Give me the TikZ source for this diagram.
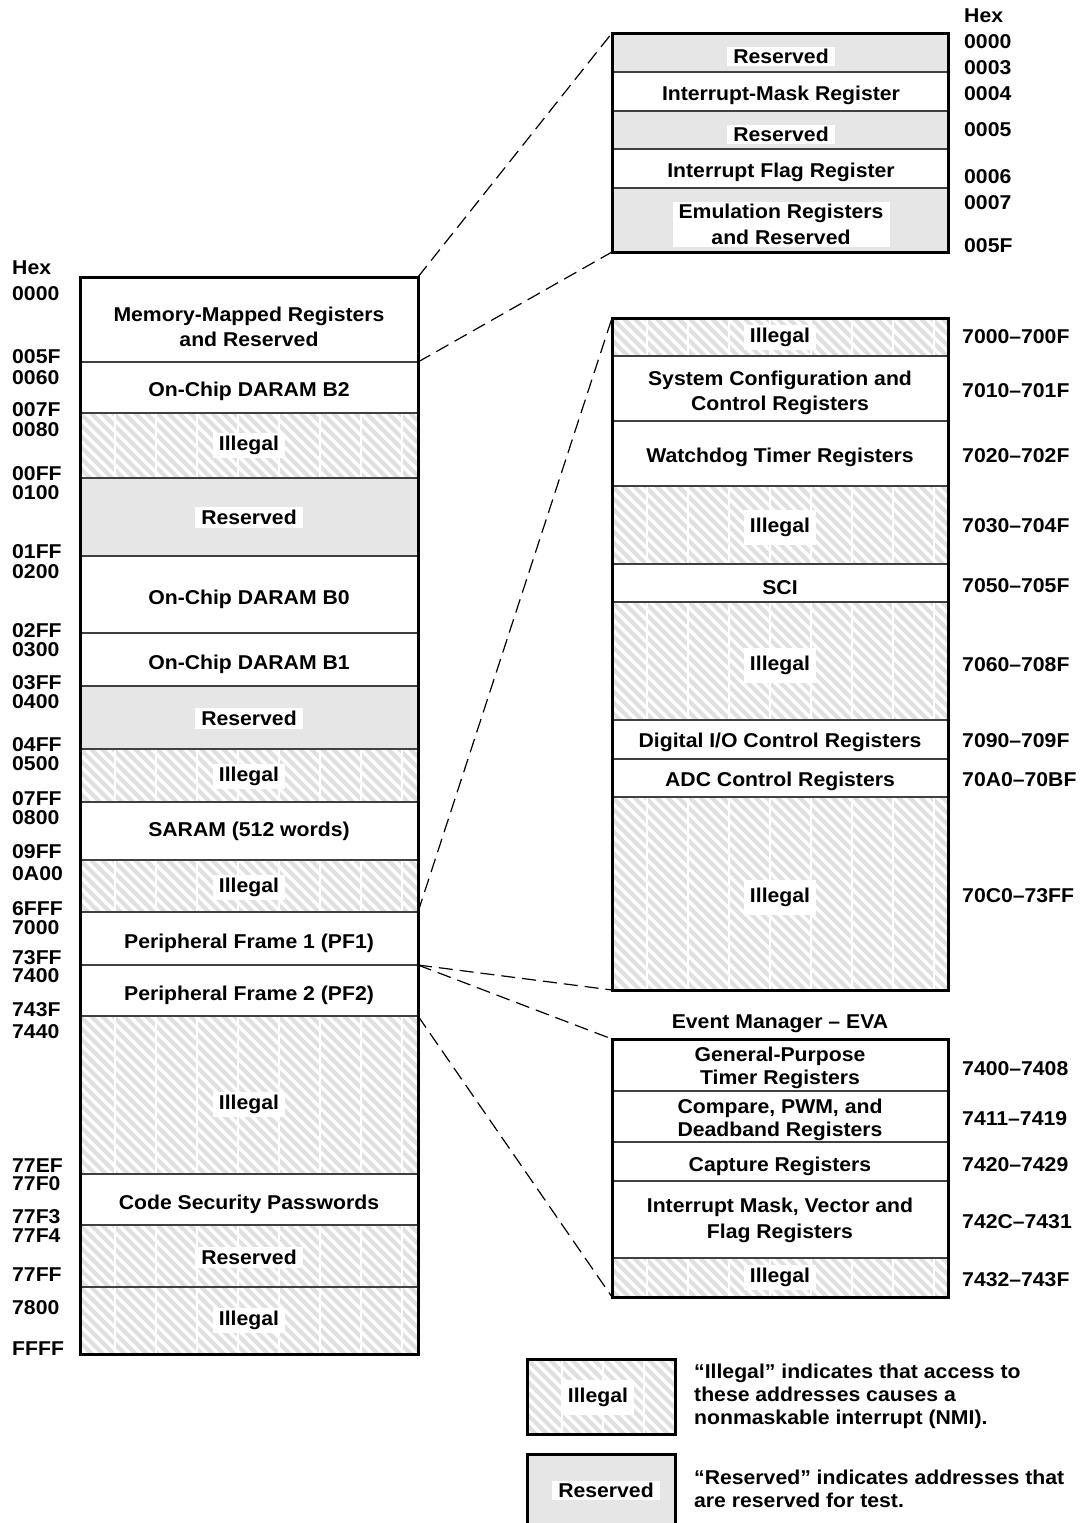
\documentclass[tikz,border=0pt]{standalone}
\usepackage{fontspec}
\setmainfont[FakeStretch=1.06]{Liberation Sans}
\definecolor{hatchgray}{HTML}{E0E0E0}
\definecolor{resgray}{HTML}{E6E6E6}
\definecolor{divgray}{HTML}{404040}
\tikzset{
  lbl/.style={fill=white, inner xsep=6pt, inner ysep=3pt, align=center, text=black, yshift=-1.5pt,
    font=\bfseries\fontsize{20}{25}\selectfont},
  plain/.style={lbl, fill=none},
  addr/.style={anchor=west, inner sep=0pt, font=\bfseries\fontsize{20}{22}\selectfont},
  frame/.style={draw=black, line width=3pt, outer sep=0pt, inner sep=0pt},
  divider/.style={draw=divgray, line width=1.5pt},
  conn/.style={draw=black, line width=1.2pt, dash pattern=on 14pt off 7pt},
}
\newcommand\grayrow[4]{\fill[resgray] (#1,#2) rectangle (#3,#4);}
\newcommand\hatchrow[4]{%
  \begin{scope}
    \clip (#1,#2) rectangle (#3,#4);
    \fill[white] (#1,#2) rectangle (#3,#4);
    \foreach \s in {-264,-253,...,352} \draw[hatchgray, line width=4pt] (#1+\s,#2) -- ++(300,300);
    \foreach \s in {35,76,...,340} \draw[white, line width=1.6pt] (#1+\s,#2) -- (#1+\s,#4);
  \end{scope}}
\begin{document}
\begin{tikzpicture}[x=1pt, y=-1pt]
\useasboundingbox (0,0) rectangle (1082,1523);
\fill[white] (0,0) rectangle (1082,1523);

% ---------------- left memory map ----------------
\grayrow{80}{478}{418}{556}
\grayrow{80}{686}{418}{749}
\hatchrow{80}{413}{418}{478}
\hatchrow{80}{749}{418}{802}
\hatchrow{80}{860}{418}{912}
\hatchrow{80}{1016}{418}{1174}
\hatchrow{80}{1225}{418}{1287}
\hatchrow{80}{1287}{418}{1354}
\foreach \yy in {362,413,478,556,633,686,749,802,860,912,965,1016,1174,1225,1287}
  \draw[divider] (80,\yy) -- (418,\yy);

\node[plain] (mmr) at (249,325) {Memory-Mapped Registers\\and Reserved};
\node[plain] (b2) at (249,390) {On-Chip DARAM B2};
\node[lbl] (ill1) at (249,444) {Illegal};
\node[lbl] (res1) at (249,516) {Reserved};
\node[plain] (b0) at (249,598) {On-Chip DARAM B0};
\node[plain] (b1) at (249,663) {On-Chip DARAM B1};
\node[lbl] (res2) at (249,717) {Reserved};
\node[lbl] (ill2) at (249,775) {Illegal};
\node[plain] (saram) at (249,830) {SARAM (512 words)};
\node[lbl] (ill3) at (249,886) {Illegal};
\node[plain] (pf1) at (249,942) {Peripheral Frame 1 (PF1)};
\node[plain] (pf2) at (249,994) {Peripheral Frame 2 (PF2)};
\node[lbl] (ill4) at (249,1103) {Illegal};
\node[plain] (csp) at (249,1203) {Code Security Passwords};
\node[lbl] (res3) at (249,1256) {Reserved};
\node[lbl] (ill5) at (249,1319) {Illegal};
\node[frame, minimum width=338pt, minimum height=1077pt] (mem) at (249,815.5) {};

\foreach \yy/\lab in {268/Hex,294/0000,357/005F,378/0060,410/007F,430/0080,474/00FF,493/0100,552/01FF,572/0200,631/02FF,650/0300,683/03FF,702/0400,745/04FF,764/0500,799/07FF,818/0800,852/09FF,874/0A00,909/6FFF,928/7000,958/73FF,976/7400,1010/743F,1032/7440,1166/77EF,1184/77F0,1217/77F3,1236/77F4,1275/77FF,1308/7800,1349/FFFF}
  \node[addr] (L\lab) at (12,\yy) {\lab};

% ---------------- top right: memory-mapped registers ----------------
\grayrow{612}{33}{948}{72}
\grayrow{612}{111}{948}{149}
\grayrow{612}{188}{948}{252}
\foreach \yy in {72,111,149,188} \draw[divider] (612,\yy) -- (948,\yy);
\node[lbl, inner ysep=2pt] (t1) at (781,55) {Reserved};
\node[plain] (t2) at (781,94) {Interrupt-Mask Register};
\node[lbl, inner ysep=2pt] (t3) at (781,133) {Reserved};
\node[plain] (t4) at (781,171) {Interrupt Flag Register};
\node[lbl, inner ysep=2pt, font=\bfseries\fontsize{20}{26}\selectfont] (t5) at (781,223) {Emulation Registers\\and Reserved};
\node[frame, minimum width=336pt, minimum height=219pt] (mmrbox) at (780,142.5) {};
\foreach \yy/\lab in {16/Hex,42/0000,68/0003,94/0004,130/0005,177/0006,203/0007,246/005F}
  \node[addr] (T\lab) at (964,\yy) {\lab};

% ---------------- middle right: PF1 ----------------
\hatchrow{612}{318}{948}{356}
\hatchrow{612}{486}{948}{564}
\hatchrow{612}{602}{948}{720}
\hatchrow{612}{797}{948}{990}
\foreach \yy in {356,421,486,564,602,720,759,797} \draw[divider] (612,\yy) -- (948,\yy);
\node[lbl] (p1) at (780,336) {Illegal};
\node[plain] (p2) at (780,391.5) {System Configuration and\\Control Registers};
\node[plain] (p3) at (780,456) {Watchdog Timer Registers};
\node[lbl, inner ysep=8pt] (p4) at (780,526) {Illegal};
\node[plain] (p5) at (780,586) {SCI};
\node[lbl, inner ysep=8pt] (p6) at (780,664) {Illegal};
\node[plain] (p7) at (780,741) {Digital I/O Control Registers};
\node[plain] (p8) at (780,780) {ADC Control Registers};
\node[lbl, inner ysep=8pt] (p9) at (780,896) {Illegal};
\node[frame, minimum width=336pt, minimum height=672pt] (pf1box) at (780,654) {};
\foreach \yy/\lab in {337/7000–700F,391/7010–701F,456/7020–702F,526/7030–704F,586/7050–705F,665/7060–708F,741/7090–709F,780/70A0–70BF,896/70C0–73FF}
  \node[addr] at (962,\yy) {\lab};

% ---------------- bottom right: EVA ----------------
\node[plain] (evat) at (780,1022) {Event Manager – EVA};
\hatchrow{612}{1258}{948}{1297}
\foreach \yy in {1091,1142,1181,1258} \draw[divider] (612,\yy) -- (948,\yy);
\node[plain, font=\bfseries\fontsize{20}{23}\selectfont] (e1) at (780,1066.5) {General-Purpose\\Timer Registers};
\node[plain, font=\bfseries\fontsize{20}{23}\selectfont] (e2) at (780,1118) {Compare, PWM, and\\Deadband Registers};
\node[plain] (e3) at (780,1165) {Capture Registers};
\node[plain, font=\bfseries\fontsize{20}{26}\selectfont] (e4) at (780,1219) {Interrupt Mask, Vector and\\Flag Registers};
\node[lbl] (e5) at (780,1276) {Illegal};
\node[frame, minimum width=336pt, minimum height=258pt] (evabox) at (780,1168) {};
\foreach \yy/\lab in {1069/7400–7408,1119/7411–7419,1165/7420–7429,1222/742C–7431,1280/7432–743F}
  \node[addr] at (962,\yy) {\lab};

% ---------------- connectors ----------------
\coordinate (c005F) at (418,362);
\coordinate (c6FFF) at (418,912);
\coordinate (c73FF) at (418,965);
\coordinate (c743F) at (418,1016);
\draw[conn] (mem.north east) -- (mmrbox.north west);
\draw[conn] (c005F) -- (mmrbox.south west);
\draw[conn] (c6FFF) -- (pf1box.north west);
\draw[conn] (c73FF) -- (pf1box.south west);
\draw[conn] (c73FF) -- (evabox.north west);
\draw[conn] (c743F) -- (evabox.south west);

% ---------------- legend ----------------
\hatchrow{527}{1359}{675}{1434}
\node[lbl, inner ysep=8pt] (lgi) at (598,1396) {Illegal};
\node[frame, minimum width=148pt, minimum height=75pt] (lgibox) at (601,1396.5) {};
\fill[resgray] (527,1454) rectangle (675,1535);
\draw[line width=3pt] (527,1535) -- (527,1454) -- (675,1454) -- (675,1535);
\node[lbl, inner ysep=2pt] (lgr) at (606,1489) {Reserved};
\node[anchor=west, align=left, inner sep=0pt, font=\bfseries\fontsize{20}{23}\selectfont] (lgit) at (694,1396)
  {“Illegal” indicates that access to\\these addresses causes a\\nonmaskable interrupt (NMI).};
\node[anchor=west, align=left, inner sep=0pt, font=\bfseries\fontsize{20}{22.5}\selectfont] (lgrt) at (694,1489)
  {“Reserved” indicates addresses that\\are reserved for test.};
\end{tikzpicture}
\end{document}
